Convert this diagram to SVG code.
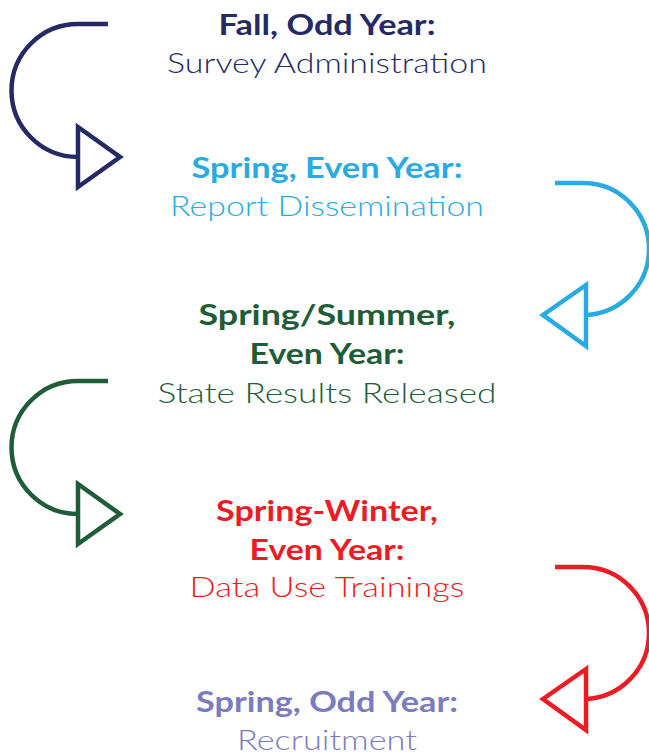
<svg xmlns="http://www.w3.org/2000/svg" width="649" height="754" viewBox="0 0 649 754">
<style>
text{font-family:Lato,"Open Sans","Liberation Sans",sans-serif;font-size:28px;text-anchor:middle}
.b{font-weight:700}
.r{font-weight:300}
.arc{fill:none;stroke-width:4.5}
.tri{fill:#fff;stroke-width:4.5;stroke-linejoin:miter}
.navy{fill:#252a64}.navyS{stroke:#252a64}
.cyan{fill:#29abe2}.cyanS{stroke:#29abe2}
.green{fill:#1f5c38}.greenS{stroke:#1f5c38}
.red{fill:#ed1c24}.redS{stroke:#ed1c24}
.lav{fill:#7b7cbd}
</style>
<rect width="649" height="754" fill="#fff"/>
<g id="connectors">
<path class="arc navyS" d="M108,24 H78 A66.5,66.5 0 0 0 78,157"/>
<path class="tri navyS" d="M78,127 L120,157 L78,187 Z"/>
<path class="arc cyanS" d="M555,183 H583 A66,66 0 0 1 583,315"/>
<path class="tri cyanS" d="M586,285 L543,315 L586,346 Z"/>
<path class="arc greenS" d="M108,381 H78 A66.5,66.5 0 0 0 78,514"/>
<path class="tri greenS" d="M78,484 L120,514 L78,544 Z"/>
<path class="arc redS" d="M555,567 H583 A66,66 0 0 1 583,699"/>
<path class="tri redS" d="M586,669 L543,699 L586,730 Z"/>
</g>
<g id="node1">
<text class="b navy" x="327" y="35" textLength="217" lengthAdjust="spacingAndGlyphs">Fall, Odd Year:</text>
<text class="r navy" x="327" y="73" textLength="320" lengthAdjust="spacingAndGlyphs">Survey Administration</text>
</g>
<g id="node2">
<text class="b cyan" x="327" y="178" textLength="271" lengthAdjust="spacingAndGlyphs">Spring, Even Year:</text>
<text class="r cyan" x="327" y="216" textLength="314" lengthAdjust="spacingAndGlyphs">Report Dissemination</text>
</g>
<g id="node3">
<text class="b green" x="327" y="325" textLength="257" lengthAdjust="spacingAndGlyphs">Spring/Summer,</text>
<text class="b green" x="327" y="364" textLength="155" lengthAdjust="spacingAndGlyphs">Even Year:</text>
<text class="r green" x="327" y="403" textLength="339" lengthAdjust="spacingAndGlyphs">State Results Released</text>
</g>
<g id="node4">
<text class="b red" x="327" y="521" textLength="222" lengthAdjust="spacingAndGlyphs">Spring-Winter,</text>
<text class="b red" x="327" y="560" textLength="155" lengthAdjust="spacingAndGlyphs">Even Year:</text>
<text class="r red" x="327" y="597" textLength="275" lengthAdjust="spacingAndGlyphs">Data Use Trainings</text>
</g>
<g id="node5">
<text class="b lav" x="327" y="712" textLength="262" lengthAdjust="spacingAndGlyphs">Spring, Odd Year:</text>
<text class="r lav" x="327" y="750" textLength="180" lengthAdjust="spacingAndGlyphs">Recruitment</text>
</g>
</svg>
